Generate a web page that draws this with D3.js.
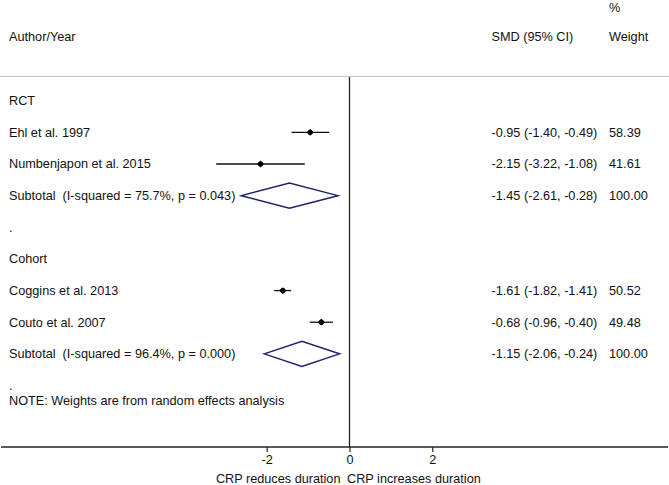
<!DOCTYPE html>
<html><head><meta charset="utf-8">
<script src="https://cdn.jsdelivr.net/npm/d3@7"></script>
<style>
body{margin:0;background:#fff;}
text{font-family:"Liberation Sans",Arial,Helvetica,sans-serif;font-size:12.7px;fill:#111;white-space:pre;}
</style></head>
<body><svg id="c" width="669" height="485"></svg>
<script>
const labels = ["RCT","Ehl et al. 1997","Numbenjapon et al. 2015","Subtotal  (I-squared = 75.7%, p = 0.043)",".","Cohort","Coggins et al. 2013","Couto et al. 2007","Subtotal  (I-squared = 96.4%, p = 0.000)","."];
const rowTypes = ["head","study","study","sub","blank","head","study","study","sub","blank"];
const estimates = [null,-0.95,-2.15,-1.45,null,null,-1.61,-0.68,-1.15,null];
const lowers    = [null,-1.40,-3.22,-2.61,null,null,-1.82,-0.96,-2.06,null];
const uppers    = [null,-0.49,-1.08,-0.28,null,null,-1.41,-0.40,-0.24,null];
const ciTexts   = ["","-0.95 (-1.40, -0.49)","-2.15 (-3.22, -1.08)","-1.45 (-2.61, -0.28)","","","-1.61 (-1.82, -1.41)","-0.68 (-0.96, -0.40)","-1.15 (-2.06, -0.24)",""];
const weights   = ["","58.39","41.61","100.00","","","50.52","49.48","100.00",""];
const tickValues = [-2,0,2];
const note = "NOTE: Weights are from random effects analysis";
const xLabelLeft = "CRP reduces duration";
const xLabelRight = "CRP increases duration";

const svg = d3.select("#c");
const W = 669;
const x = d3.scaleLinear().domain([-2,2]).range([266.7,432.3]);
const y = d3.scaleLinear().domain([0,9]).range([100.7,385.5]);
const rows = labels.map((l,i)=>({l,i,t:rowTypes[i],e:estimates[i],lo:lowers[i],hi:uppers[i],ci:ciTexts[i],w:weights[i]}));

svg.append("text").attr("x",609).attr("y",8).attr("dy","0.35em").text("%");
svg.append("text").attr("x",9).attr("y",37).attr("dy","0.35em").text("Author/Year");
svg.append("text").attr("x",491.5).attr("y",37).attr("dy","0.35em").text("SMD (95% CI)");
svg.append("text").attr("x",609).attr("y",37).attr("dy","0.35em").text("Weight");

svg.append("line").attr("x1",0).attr("x2",W).attr("y1",76.5).attr("y2",76.5).attr("stroke","#c8c8c8").attr("stroke-width",1.2);
svg.append("line").attr("x1",x(0)).attr("x2",x(0)).attr("y1",77).attr("y2",447).attr("stroke","#222").attr("stroke-width",1.3);

svg.selectAll("text.lab").data(rows).join("text").attr("class","lab")
  .attr("x",9).attr("y",d=>y(d.i)).attr("dy","0.35em").text(d=>d.l);
svg.selectAll("text.ci").data(rows.filter(d=>d.ci)).join("text").attr("class","ci")
  .attr("x",491.5).attr("y",d=>y(d.i)).attr("dy","0.35em").text(d=>d.ci);
svg.selectAll("text.w").data(rows.filter(d=>d.w)).join("text").attr("class","w")
  .attr("x",609).attr("y",d=>y(d.i)).attr("dy","0.35em").text(d=>d.w);

const st = rows.filter(d=>d.t==="study");
svg.selectAll("line.cil").data(st).join("line").attr("class","cil")
  .attr("x1",d=>x(d.lo)).attr("x2",d=>x(d.hi)).attr("y1",d=>y(d.i)).attr("y2",d=>y(d.i))
  .attr("stroke","#111").attr("stroke-width",1.3);
svg.selectAll("path.pt").data(st).join("path").attr("class","pt")
  .attr("d",d=>{const cx=x(d.e),cy=y(d.i),r=3.4;return `M${cx-r},${cy}L${cx},${cy-r}L${cx+r},${cy}L${cx},${cy+r}Z`;})
  .attr("fill","#000");
svg.selectAll("circle.pt").data(st).join("circle").attr("class","pt")
  .attr("cx",d=>x(d.e)).attr("cy",d=>y(d.i)).attr("r",2.6).attr("fill","#000");

const sb = rows.filter(d=>d.t==="sub");
svg.selectAll("path.dia").data(sb).join("path").attr("class","dia")
  .attr("d",d=>{const cy=y(d.i),h=12.6;return `M${x(d.lo)},${cy}L${x(d.e)},${cy-h}L${x(d.hi)},${cy}L${x(d.e)},${cy+h}Z`;})
  .attr("fill","none").attr("stroke","#1b2070").attr("stroke-width",1.5);

svg.append("text").attr("x",9).attr("y",401).attr("dy","0.35em").text(note);

svg.append("line").attr("x1",1).attr("x2",668).attr("y1",447).attr("y2",447).attr("stroke","#222").attr("stroke-width",1.3);
const ax = svg.append("g").attr("transform","translate(0,447)")
  .call(d3.axisBottom(x).tickValues(tickValues).tickSize(5).tickPadding(3).tickFormat(d=>String(d)));
ax.select(".domain").remove();
ax.selectAll(".tick line").attr("stroke","#222").attr("stroke-width",1.2);
ax.selectAll(".tick text").attr("font-family",null).attr("font-size",null).style("font-size","12.7px").attr("fill","#111");
svg.append("text").attr("x",340.5).attr("y",479).attr("dy","0.35em").attr("text-anchor","end").text(xLabelLeft);
svg.append("text").attr("x",347).attr("y",479).attr("dy","0.35em").text(xLabelRight);
</script></body></html>
